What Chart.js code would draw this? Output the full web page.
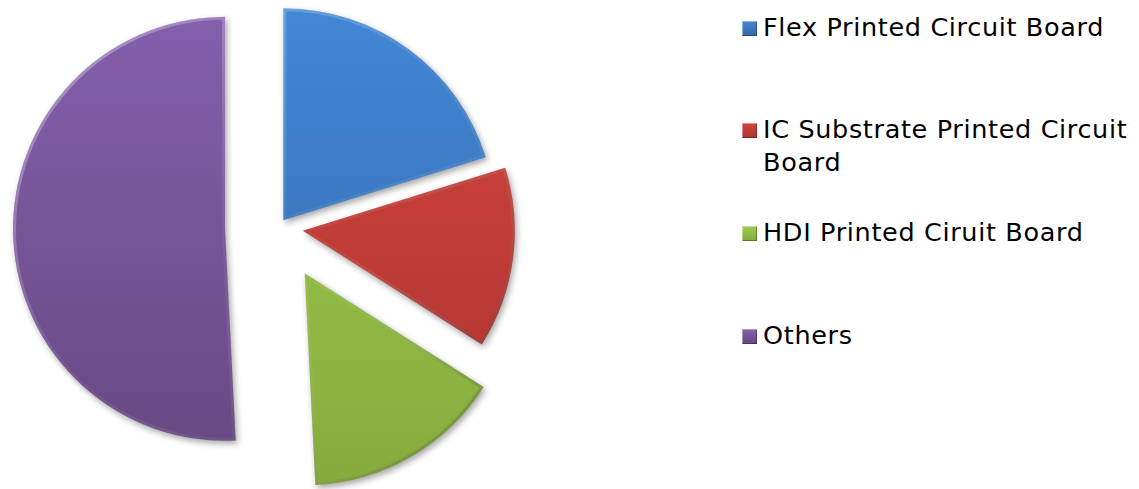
<!DOCTYPE html>
<html>
<head>
<meta charset="utf-8">
<script src="https://cdn.jsdelivr.net/npm/chart.js@4/dist/chart.umd.min.js"></script>
<style>
  html, body { margin: 0; padding: 0; background: #ffffff; }
  body { width: 1139px; height: 489px; position: relative; overflow: hidden; font-family: "DejaVu Sans", Verdana, sans-serif; }
  #pie { position: absolute; left: 0; top: 0; }
  .item { position: absolute; left: 742px; font-size: 25.5px; letter-spacing: 0.66px; line-height: 33px; color: #000; }
  .sw { position: absolute; left: 0; width: 15px; height: 15px; }
  .txt { position: absolute; left: 21px; white-space: nowrap; }
</style>
</head>
<body>
<canvas id="pie" width="560" height="489"></canvas>
<div id="legend"></div>
<script>
const categories = ["Flex Printed Circuit Board", "IC Substrate Printed Circuit Board", "HDI Printed Ciruit Board", "Others"];
const legendLines = [["Flex Printed Circuit Board"], ["IC Substrate Printed Circuit", "Board"], ["HDI Printed Ciruit Board"], ["Others"]];
const shareValues = [20.2, 13.8, 15.2, 50.8];

// styles
const topColors = ["#4287d6", "#d4453f", "#a0cc52", "#8560ae"];
const bottomColors = ["#3568a8", "#ab332f", "#86ab3b", "#65477f"];
const explodePx = [9, 25, 53, 53];
const legendBaselines = [36, 138, 241, 344];

function grad(c, i) {
  const g = c.createLinearGradient(0, 0, 0, 489);
  g.addColorStop(0, topColors[i]);
  g.addColorStop(1, bottomColors[i]);
  return g;
}

const explodePlugin = {
  id: 'explode',
  afterDatasetsUpdate(chart) {
    const meta = chart.getDatasetMeta(0);
    meta.data.forEach((arc, i) => {
      const mid = (arc.startAngle + arc.endAngle) / 2;
      arc.x = arc.x + Math.cos(mid) * explodePx[i];
      arc.y = arc.y + Math.sin(mid) * explodePx[i];
    });
  },
  beforeDatasetsDraw(chart) {
    const c = chart.ctx;
    c.save();
    c.shadowColor = 'rgba(0,0,0,0.35)';
    c.shadowBlur = 6;
    c.shadowOffsetX = 2;
    c.shadowOffsetY = 3;
  },
  afterDatasetsDraw(chart) {
    chart.ctx.restore();
    // bevel highlight
    const c = chart.ctx;
    const meta = chart.getDatasetMeta(0);
    meta.data.forEach((arc, i) => {
      c.save();
      c.beginPath();
      c.moveTo(arc.x, arc.y);
      c.arc(arc.x, arc.y, arc.outerRadius, arc.startAngle, arc.endAngle);
      c.closePath();
      c.clip();
      const g = c.createLinearGradient(arc.x - arc.outerRadius, arc.y - arc.outerRadius, arc.x + arc.outerRadius, arc.y + arc.outerRadius);
      g.addColorStop(0, 'rgba(255,255,255,0.4)');
      g.addColorStop(0.5, 'rgba(255,255,255,0.04)');
      g.addColorStop(1, 'rgba(0,0,0,0.35)');
      c.strokeStyle = g;
      c.lineWidth = 6;
      c.lineJoin = 'round';
      c.stroke();
      c.restore();
    });
  }
};

const ctx = document.getElementById('pie').getContext('2d');
new Chart(ctx, {
  type: 'pie',
  data: {
    labels: categories,
    datasets: [{
      data: shareValues,
      backgroundColor: (context) => grad(context.chart.ctx, context.dataIndex),
      borderWidth: 0
    }]
  },
  options: {
    responsive: false,
    animation: false,
    events: [],
    radius: 212,
    layout: { padding: { left: 0, right: 4, top: 0, bottom: 34 } },
    plugins: { legend: { display: false }, tooltip: { enabled: false } }
  },
  plugins: [explodePlugin]
});

// legend
const legend = document.getElementById('legend');
legendLines.forEach((lines, i) => {
  const item = document.createElement('div');
  item.className = 'item';
  item.style.top = (legendBaselines[i] - 25.3) + 'px';
  const sw = document.createElement('div');
  sw.className = 'sw';
  sw.style.top = '10px';
  sw.style.background = `linear-gradient(to bottom, ${topColors[i]}, ${bottomColors[i]})`;
  sw.style.boxShadow = 'inset 1px 1px 0 rgba(255,255,255,0.4), inset -1px -1px 0 rgba(0,0,0,0.3)';
  const tx = document.createElement('div');
  tx.className = 'txt';
  tx.innerHTML = lines.join('<br>');
  item.appendChild(sw);
  item.appendChild(tx);
  legend.appendChild(item);
});
</script>
</body>
</html>
